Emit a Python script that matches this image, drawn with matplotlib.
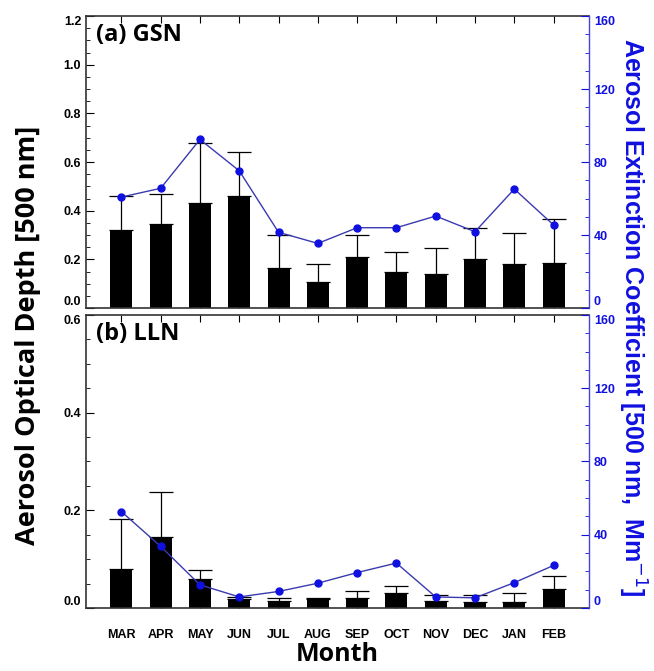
import numpy as np
import matplotlib
matplotlib.use('Agg')
import matplotlib.pyplot as plt

months = ['MAR', 'APR', 'MAY', 'JUN', 'JUL', 'AUG', 'SEP', 'OCT', 'NOV', 'DEC', 'JAN', 'FEB']

# (a) GSN
gsn_aod = [0.32, 0.345, 0.43, 0.46, 0.166, 0.107, 0.21, 0.148, 0.139, 0.20, 0.18, 0.183]
gsn_aod_err = [0.14, 0.125, 0.25, 0.18, 0.134, 0.073, 0.09, 0.082, 0.106, 0.13, 0.13, 0.182]
gsn_ext = [60.8, 65.6, 92.4, 75.2, 41.5, 35.4, 44.0, 44.0, 50.4, 41.8, 65.2, 45.5]

# (b) LLN
lln_aod = [0.0795, 0.145, 0.059, 0.018, 0.014, 0.018, 0.021, 0.030, 0.015, 0.012, 0.013, 0.038]
lln_aod_err = [0.1025, 0.092, 0.019, 0.004, 0.007, 0.002, 0.014, 0.014, 0.012, 0.015, 0.017, 0.028]
lln_ext = [52.6, 33.6, 12.6, 6.0, 9.0, 13.5, 19.3, 24.5, 6.0, 5.5, 13.8, 23.2]

BLUE = '#1010e0'
LINE_BLUE = '#3a3ab0'
TICK_FAMILY = 'Liberation Sans'
LABEL_FONT = 'Open Sans'


def style_ticks(axis_obj, color):
    ticks = axis_obj.get_major_ticks()
    for t in ticks:
        for lbl in (t.label1, t.label2):
            lbl.set_family(TICK_FAMILY)
            lbl.set_fontweight('bold')
            lbl.set_fontsize(9)
            lbl.set_color(color)
    # keep end labels inside the axis like the original
    ticks[0].label1.set_va('bottom')
    ticks[0].label2.set_va('bottom')
    ticks[-1].label1.set_va('top')
    ticks[-1].label2.set_va('top')


def draw_panel(ax, aod, err, ext, ymax, label):
    x = np.arange(len(months))
    ax.bar(x, aod, width=0.56, color='black', zorder=2)
    ax.errorbar(x, aod, yerr=[np.zeros(len(err)), err], fmt='none', ecolor='black',
                elinewidth=0.9, capsize=8.5, capthick=0.9, zorder=1)
    ax.set_xlim(-0.9, 11.9)
    ax.set_ylim(0, ymax)
    ax.set_yticks(np.round(np.arange(0, ymax + 0.01, 0.2), 2))
    ax.set_yticks(np.arange(0, ymax + 0.01, 0.05), minor=True)
    ax.set_xticks(x)
    ax.tick_params(axis='x', which='both', direction='in', top=True, bottom=True, length=5)
    ax.tick_params(axis='y', which='major', direction='in', length=6)
    ax.tick_params(axis='y', which='minor', direction='in', length=3)
    style_ticks(ax.yaxis, 'black')
    for s in ['left', 'top', 'bottom']:
        ax.spines[s].set_color('#333333')
        ax.spines[s].set_linewidth(1.2)
    ax.spines['right'].set_visible(False)
    ax.text(0.02, 0.975, label, transform=ax.transAxes, ha='left', va='top',
            fontsize=17, fontweight='bold', family=LABEL_FONT)

    ax2 = ax.twinx()
    ax2.plot(x, ext, '-', color=LINE_BLUE, lw=1.0, zorder=3)
    ax2.plot(x, ext, 'o', color=BLUE, ms=5, zorder=4)
    ax2.set_ylim(0, 160)
    ax2.set_yticks(np.arange(0, 161, 40))
    ax2.set_yticks(np.arange(0, 161, 10), minor=True)
    ax2.tick_params(axis='y', which='major', direction='in', length=6, colors=BLUE)
    ax2.tick_params(axis='y', which='minor', direction='in', length=3, colors=BLUE)
    style_ticks(ax2.yaxis, BLUE)
    ax2.spines['right'].set_color('#4444dd')
    ax2.spines['right'].set_linewidth(1.0)
    for s in ['left', 'top', 'bottom']:
        ax2.spines[s].set_visible(False)
    return ax2


fig = plt.figure(figsize=(6.54, 6.71), dpi=100)
ax_a = fig.add_axes([0.1315, 0.541, 0.769, 0.435])
ax_b = fig.add_axes([0.1315, 0.094, 0.769, 0.4367])

draw_panel(ax_a, gsn_aod, gsn_aod_err, gsn_ext, 1.2, '(a) GSN')
draw_panel(ax_b, lln_aod, lln_aod_err, lln_ext, 0.6, '(b) LLN')

ax_a.set_xticklabels([])
ax_b.set_xticklabels(months, family=TICK_FAMILY, fontweight='bold', fontsize=9)
ax_b.tick_params(axis='x', pad=15)

fig.text(0.516, 0.006, 'Month', ha='center', va='bottom', fontsize=18,
         fontweight='bold', family=LABEL_FONT)
fig.text(0.043, 0.50, 'Aerosol Optical Depth [500 nm]', rotation=90, ha='center',
         va='center', fontsize=19.5, fontweight='bold', family=LABEL_FONT)
fig.text(0.966, 0.527, 'Aerosol Extinction Coefficient [500 nm,  Mm$^{-1}$]',
         rotation=-90, ha='center', va='center', fontsize=18, fontweight='bold',
         family=TICK_FAMILY, color=BLUE)

fig.savefig('out.png', dpi=100)
